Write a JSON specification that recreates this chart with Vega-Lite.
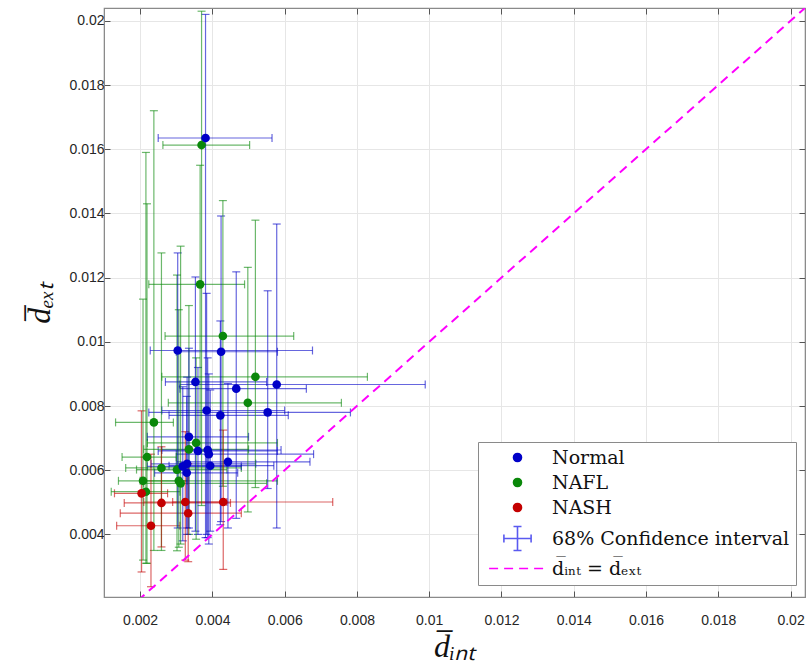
{
  "$schema": "https://vega.github.io/schema/vega-lite/v6.json",
  "width": 701,
  "height": 589,
  "autosize": "none",
  "padding": {"left": 104, "top": 8, "right": 2, "bottom": 67},
  "background": "white",
  "config": {
    "view": {"stroke": "#8a8a8a", "strokeWidth": 1.2},
    "axis": {
      "labelFont": "Liberation Sans",
      "labelFontSize": 14,
      "labelColor": "#262626",
      "gridColor": "#e6e6e6",
      "gridWidth": 1,
      "domainColor": "#8a8a8a",
      "tickColor": "#555555",
      "tickSize": -6,
      "titleFont": "Liberation Serif",
      "titleFontStyle": "italic",
      "titleFontWeight": "normal",
      "titleFontSize": 32,
      "titleColor": "#111111"
    }
  },
  "datasets": {
    "samples": [
      {"group": "NAFL", "x": 0.0037, "y": 0.01613, "xlo": 0.00263, "xhi": 0.00503, "ylo": 0.0049, "yhi": 0.0203},
      {"group": "NAFL", "x": 0.00366, "y": 0.01179, "xlo": 0.00224, "xhi": 0.00489, "ylo": 0.0066, "yhi": 0.0155},
      {"group": "NAFL", "x": 0.00429, "y": 0.01018, "xlo": 0.00269, "xhi": 0.00625, "ylo": 0.0055, "yhi": 0.0144},
      {"group": "NAFL", "x": 0.00519, "y": 0.00891, "xlo": 0.0026, "xhi": 0.00829, "ylo": 0.00546, "yhi": 0.01379},
      {"group": "NAFL", "x": 0.00498, "y": 0.0081, "xlo": 0.00278, "xhi": 0.00757, "ylo": 0.0047, "yhi": 0.01232},
      {"group": "NAFL", "x": 0.00238, "y": 0.00749, "xlo": 0.00132, "xhi": 0.00292, "ylo": 0.0035, "yhi": 0.0172},
      {"group": "NAFL", "x": 0.00355, "y": 0.00685, "xlo": 0.0022, "xhi": 0.0058, "ylo": 0.00385, "yhi": 0.0095},
      {"group": "NAFL", "x": 0.00335, "y": 0.00665, "xlo": 0.0021, "xhi": 0.005, "ylo": 0.004, "yhi": 0.01113},
      {"group": "NAFL", "x": 0.00219, "y": 0.00641, "xlo": 0.0015, "xhi": 0.003, "ylo": 0.0031, "yhi": 0.0143},
      {"group": "NAFL", "x": 0.00259, "y": 0.00607, "xlo": 0.0016, "xhi": 0.0048, "ylo": 0.0035, "yhi": 0.01277},
      {"group": "NAFL", "x": 0.00302, "y": 0.00602, "xlo": 0.0019, "xhi": 0.0044, "ylo": 0.00349, "yhi": 0.01208},
      {"group": "NAFL", "x": 0.00208, "y": 0.00567, "xlo": 0.0014, "xhi": 0.0033, "ylo": 0.0032, "yhi": 0.01133},
      {"group": "NAFL", "x": 0.00307, "y": 0.00567, "xlo": 0.002, "xhi": 0.0058, "ylo": 0.0036, "yhi": 0.011},
      {"group": "NAFL", "x": 0.00312, "y": 0.00559, "xlo": 0.0021, "xhi": 0.0055, "ylo": 0.0037, "yhi": 0.01298},
      {"group": "NAFL", "x": 0.00216, "y": 0.00533, "xlo": 0.0012, "xhi": 0.0031, "ylo": 0.0031, "yhi": 0.0159},
      {"group": "NASH", "x": 0.00204, "y": 0.00528, "xlo": 0.00129, "xhi": 0.00276, "ylo": 0.00283, "yhi": 0.00785},
      {"group": "NASH", "x": 0.00259, "y": 0.00498, "xlo": 0.00156, "xhi": 0.0045, "ylo": 0.00361, "yhi": 0.00673},
      {"group": "NASH", "x": 0.00325, "y": 0.00501, "xlo": 0.0021, "xhi": 0.0044, "ylo": 0.0032, "yhi": 0.0072},
      {"group": "NASH", "x": 0.0043, "y": 0.00501, "xlo": 0.0029, "xhi": 0.00733, "ylo": 0.00291, "yhi": 0.00725},
      {"group": "NASH", "x": 0.00333, "y": 0.00466, "xlo": 0.00145, "xhi": 0.0048, "ylo": 0.00315, "yhi": 0.0062},
      {"group": "NASH", "x": 0.0023, "y": 0.00427, "xlo": 0.00135, "xhi": 0.0031, "ylo": 0.00237, "yhi": 0.0065},
      {"group": "Normal", "x": 0.00381, "y": 0.01635, "xlo": 0.0025, "xhi": 0.00565, "ylo": 0.0039, "yhi": 0.0202},
      {"group": "Normal", "x": 0.00304, "y": 0.00973, "xlo": 0.00228, "xhi": 0.00677, "ylo": 0.0042, "yhi": 0.01277},
      {"group": "Normal", "x": 0.00424, "y": 0.00969, "xlo": 0.003, "xhi": 0.0058, "ylo": 0.0044, "yhi": 0.01392},
      {"group": "Normal", "x": 0.00353, "y": 0.00875, "xlo": 0.0027, "xhi": 0.0055, "ylo": 0.0041, "yhi": 0.01202},
      {"group": "Normal", "x": 0.00466, "y": 0.00854, "xlo": 0.0031, "xhi": 0.0066, "ylo": 0.0045, "yhi": 0.01218},
      {"group": "Normal", "x": 0.00578, "y": 0.00867, "xlo": 0.0031, "xhi": 0.00989, "ylo": 0.0042, "yhi": 0.01367},
      {"group": "Normal", "x": 0.00384, "y": 0.00786, "xlo": 0.0026, "xhi": 0.006, "ylo": 0.004, "yhi": 0.01151},
      {"group": "Normal", "x": 0.00422, "y": 0.00771, "xlo": 0.0028, "xhi": 0.0061, "ylo": 0.0043, "yhi": 0.01065},
      {"group": "Normal", "x": 0.00553, "y": 0.0078, "xlo": 0.00224, "xhi": 0.00782, "ylo": 0.00543, "yhi": 0.01159},
      {"group": "Normal", "x": 0.00335, "y": 0.00704, "xlo": 0.0022, "xhi": 0.005, "ylo": 0.0042, "yhi": 0.0098},
      {"group": "Normal", "x": 0.00387, "y": 0.00663, "xlo": 0.0026, "xhi": 0.0059, "ylo": 0.0039, "yhi": 0.0095},
      {"group": "Normal", "x": 0.0036, "y": 0.0066, "xlo": 0.0025, "xhi": 0.0058, "ylo": 0.004, "yhi": 0.0092},
      {"group": "Normal", "x": 0.00443, "y": 0.00626, "xlo": 0.003, "xhi": 0.0067, "ylo": 0.0042, "yhi": 0.0087},
      {"group": "Normal", "x": 0.0033, "y": 0.0062, "xlo": 0.0023, "xhi": 0.0052, "ylo": 0.004, "yhi": 0.0089},
      {"group": "Normal", "x": 0.00318, "y": 0.00612, "xlo": 0.0022, "xhi": 0.0048, "ylo": 0.0038, "yhi": 0.0086},
      {"group": "Normal", "x": 0.00394, "y": 0.00614, "xlo": 0.0028, "xhi": 0.0057, "ylo": 0.0041, "yhi": 0.0085},
      {"group": "Normal", "x": 0.00329, "y": 0.00592, "xlo": 0.0024, "xhi": 0.0047, "ylo": 0.0042, "yhi": 0.0083},
      {"group": "Normal", "x": 0.0039, "y": 0.0065, "xlo": 0.003, "xhi": 0.0068, "ylo": 0.0037, "yhi": 0.009}
    ],
    "identity": [
      {"x": 0.001, "y": 0.001},
      {"x": 0.021, "y": 0.021}
    ]
  },
  "resolve": {"axis": {"x": "independent", "y": "independent"}},
  "layer": [
    {
      "data": {"name": "samples"},
      "layer": [
        {
          "mark": {"type": "errorbar", "ticks": {"size": 8}, "thickness": 1.2, "opacity": 0.6},
          "encoding": {
            "x": {"field": "xlo", "type": "quantitative", "title": "d̅ᵢₙₜ"},
            "x2": {"field": "xhi"},
            "y": {"field": "y", "type": "quantitative", "title": "d̅ₑₓₜ"},
            "color": {"field": "group", "type": "nominal"}
          }
        },
        {
          "mark": {"type": "errorbar", "ticks": {"size": 8}, "thickness": 1.2, "opacity": 0.6},
          "encoding": {
            "y": {"field": "ylo", "type": "quantitative", "title": "d̅ₑₓₜ"},
            "y2": {"field": "yhi"},
            "x": {"field": "x", "type": "quantitative", "title": "d̅ᵢₙₜ"},
            "color": {"field": "group", "type": "nominal"}
          }
        },
        {
          "mark": {"type": "point", "filled": true, "opacity": 1},
          "encoding": {
            "x": {
              "field": "x", "type": "quantitative", "title": "d̅ᵢₙₜ",
              "scale": {"domain": [0.001, 0.0204], "nice": false, "zero": false},
              "axis": {"values": [0.002, 0.004, 0.006, 0.008, 0.01, 0.012, 0.014, 0.016, 0.018, 0.02], "format": "~g", "labelPadding": 22, "titlePadding": 4}
            },
            "y": {
              "field": "y", "type": "quantitative", "title": "d̅ₑₓₜ",
              "scale": {"domain": [0.00205, 0.0204], "nice": false, "zero": false},
              "axis": {"values": [0.004, 0.006, 0.008, 0.01, 0.012, 0.014, 0.016, 0.018, 0.02], "format": "~g", "labelPadding": 6, "titlePadding": 12}
            },
            "color": {
              "field": "group", "type": "nominal",
              "scale": {
                "domain": ["Normal", "NAFL", "NASH", "68% Confidence interval", "d̅ᵢₙₜ = d̅ₑₓₜ"],
                "range": ["#0000c8", "#0a880a", "#c40000", "#5a5af0", "#ff00ff"]
              },
              "legend": {
                "title": null,
                "orient": "none",
                "legendX": 374,
                "legendY": 434,
                "padding": 6,
                "strokeColor": "#8a8a8a",
                "fillColor": "white",
                "labelFont": "DejaVu Serif",
                "labelFontSize": 19,
                "labelColor": "#111111",
                "symbolSize": 64,
                "symbolOpacity": 1,
                "symbolOffset": 24,
                "labelOffset": 25,
                "rowPadding": 5,
                "labelLimit": 400,
                "encode": {
                  "symbols": {
                    "update": {
                      "fill": {"signal": "indexof(['Normal','NAFL','NASH'], datum.value) >= 0 ? scale('color', datum.value) : 'transparent'"},
                      "stroke": {"signal": "indexof(['Normal','NAFL','NASH'], datum.value) >= 0 ? 'transparent' : scale('color', datum.value)"},
                      "strokeWidth": {"value": 1.6},
                      "opacity": {"value": 1},
                      "fillOpacity": {"value": 1},
                      "strokeOpacity": {"value": 1}
                    }
                  }
                }
              }
            },
            "shape": {
              "field": "group", "type": "nominal",
              "scale": {
                "domain": ["Normal", "NAFL", "NASH", "68% Confidence interval", "d̅ᵢₙₜ = d̅ₑₓₜ"],
                "range": [
                  "circle", "circle", "circle",
                  "M-3.4,0H3.4M0,-3V3M-3.4,-1V1M3.4,-1V1M-1,-3H1M-1,3H1",
                  "M-7.1,0H-4.85M-3.35,0H-1.1M0.4,0H2.65M4.15,0H6.4"
                ]
              },
              "legend": null
            },
            "size": {"value": 75}
          }
        },
        {
          "data": {"name": "identity"},
          "mark": {"type": "line", "clip": true, "color": "#ff00ff", "strokeWidth": 2, "strokeDash": [9, 6]},
          "encoding": {
            "x": {"field": "x", "type": "quantitative", "title": "d̅ᵢₙₜ"},
            "y": {"field": "y", "type": "quantitative", "title": "d̅ₑₓₜ"}
          }
        }
      ]
    },
    {
      "data": {"name": "identity"},
      "mark": {"type": "point", "opacity": 0},
      "encoding": {
        "x": {
          "field": "x", "type": "quantitative",
          "axis": {"orient": "top", "labels": false, "grid": false, "title": null, "values": [0.002, 0.004, 0.006, 0.008, 0.01, 0.012, 0.014, 0.016, 0.018, 0.02]}
        },
        "y": {
          "field": "y", "type": "quantitative",
          "axis": {"orient": "right", "labels": false, "grid": false, "title": null, "values": [0.004, 0.006, 0.008, 0.01, 0.012, 0.014, 0.016, 0.018, 0.02]}
        }
      }
    }
  ]
}
